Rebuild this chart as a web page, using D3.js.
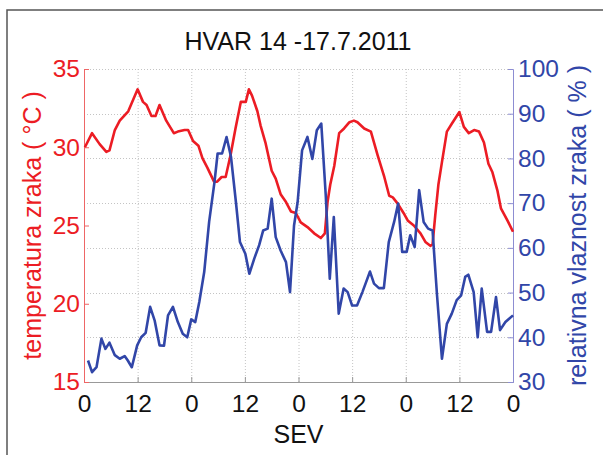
<!DOCTYPE html>
<html>
<head>
<meta charset="utf-8">
<script src="https://cdn.jsdelivr.net/npm/d3@7"></script>
<style>
  body { margin: 0; background: #fff; }
  svg { display: block; font-family: "Liberation Sans", Arial, sans-serif; }
</style>
</head>
<body>
<svg id="chart" width="603" height="455"></svg>
<script>
const title = 'HVAR 14 -17.7.2011';
const xLabel = 'SEV';
const tempLabel = 'temperatura zraka ( °C )';
const humLabel = 'relativna vlaznost zraka ( % )';

const xTicks = [0, 12, 24, 36, 48, 60, 72, 84, 96];
const xTickLabels = ['0', '12', '0', '12', '0', '12', '0', '12', '0'];
const tempTicks = [15, 20, 25, 30, 35];
const humTicks = [30, 40, 50, 60, 70, 80, 90, 100];

// hours since 14.7. 00:00
const tempHours = [0.2, 1.8, 3.5, 5, 5.7, 6.9, 8, 9.9, 12, 13.2, 14, 15.1, 16, 16.9, 18.4, 20.1, 21, 22.5, 23.3,
  24.4, 25.6, 26.5, 27.6, 29.1, 29.8, 30.8, 31.7, 32.8, 33.9, 35.1, 36.2, 36.9, 37.6, 38.8, 39.5, 40.6, 42, 42.9,
  44, 45.2, 46.3, 47.4, 48.5, 50, 51.5, 53, 53.9, 54.5, 55.1, 56, 57.1, 58.2, 59.4, 60.4, 61.2, 62.7, 64.2, 65.7,
  67.2, 68.3, 69.1, 70.2, 71.5, 72.5, 73.8, 75.3, 76.4, 77.5, 78, 78.6, 79.3, 80.1, 81.2, 82.3, 84, 85, 86.1,
  87.3, 88.4, 89.5, 90.5, 91.4, 92.5, 93.3, 94.8, 96];
const tempValues = [30.0, 30.9, 30.2, 29.7, 29.8, 31.1, 31.7, 32.3, 33.7, 32.9, 32.7, 32.0, 32.0, 32.7, 31.7, 30.9, 31.0, 31.1, 31.1,
  30.4, 30.1, 29.3, 28.7, 27.8, 27.8, 28.1, 28.1, 29.5, 31.2, 32.9, 32.9, 33.7, 33.3, 32.3, 31.4, 30.3, 28.5, 28.0,
  27.0, 26.5, 25.9, 25.8, 25.2, 24.9, 24.5, 24.2, 24.5, 26.5, 27.6, 28.8, 30.9, 31.2, 31.6, 31.7, 31.6, 31.2, 31.0, 29.5,
  28.1, 26.9, 26.8, 26.4, 25.8, 25.3, 25.0, 24.5, 23.95, 23.7, 23.8, 25.65, 27.6, 29.05, 31.0, 31.5, 32.25, 31.3, 30.9,
  31.1, 31.0, 30.3, 28.95, 28.4, 27.25, 26.1, 25.3, 24.6];

const humHours = [0.9, 1.8, 2.8, 3.9, 4.8, 5.7, 6.9, 8, 9.1, 9.8, 10.7, 11.9, 12.8, 13.8, 14.8, 15.8, 16.9, 17.9,
  18.8, 19.9, 21, 22.1, 23.1, 24, 24.9, 25.8, 26.9, 28, 29.2, 29.9, 30.9, 31.9, 32.9, 34, 34.9, 36.1, 37, 38.1,
  39.2, 40.1, 41.1, 42, 42.9, 44, 45.2, 46.1, 47, 47.8, 48.8, 50, 51.1, 52.1, 53.1, 54.1, 55, 55.9, 57, 58.1, 59,
  60, 61.1, 62.3, 63, 64, 64.9, 66, 67.1, 68.2, 69.4, 70.3, 71.2, 72.2, 73, 74, 75, 76, 77, 78, 79, 80.1, 81.2,
  82.3, 83.4, 84.4, 85.3, 86, 87.2, 88.1, 89, 90.2, 91.1, 92.2, 93.1, 94.3, 96];
const humValues = [34.8, 32.2, 33.3, 39.7, 37.4, 38.8, 36.0, 35.2, 35.8, 34.8, 33.3, 38.2, 40.0, 41.0, 46.8, 43.8, 38.2, 38.1,
  44.9, 46.8, 43.4, 40.8, 40.0, 44.0, 43.4, 47.9, 54.6, 65.8, 74.7, 81.1, 81.1, 84.8, 80.3, 70.2, 61.3, 58.7, 54.2, 57.6,
  60.6, 63.9, 64.3, 71.0, 62.4, 59.4, 56.8, 50.1, 65.0, 70.2, 81.8, 84.8, 79.9, 86.3, 87.8, 71.7, 53.1, 66.9, 45.3, 50.9, 50.1,
  47.1, 47.1, 50.1, 52.0, 54.7, 52.0, 51.0, 51.0, 61.3, 65.8, 69.9, 59.1, 59.1, 62.8, 60.2, 72.9, 65.8, 64.3, 63.9, 49.4, 35.2, 43.0,
  45.3, 48.3, 49.4, 53.5, 54.0, 50.1, 40.0, 50.9, 41.2, 41.2, 49.0, 41.6, 43.4, 44.9];

const red = '#ec1c24';
const blue = '#3146a8';

const plot = { left: 84, right: 513, top: 69, bottom: 382 };

const svg = d3.select('#chart');

// figure frame
svg.append('path')
  .attr('d', 'M7,455 V10 H603')
  .attr('fill', 'none')
  .attr('stroke', '#555')
  .attr('stroke-width', 1.5);

const x = d3.scaleLinear().domain([0, 96]).range([plot.left, plot.right]);
const yT = d3.scaleLinear().domain([15, 35]).range([plot.bottom, plot.top]);
const yH = d3.scaleLinear().domain([30, 100]).range([plot.bottom, plot.top]);

// grid
const grid = svg.append('g')
  .attr('stroke', '#c4c4c4')
  .attr('stroke-width', 1)
  .attr('stroke-dasharray', '1,2');

grid.selectAll('.vg')
  .data(xTicks.slice(1, -1))
  .join('line')
  .attr('x1', d => x(d) + 0.5).attr('x2', d => x(d) + 0.5)
  .attr('y1', plot.top).attr('y2', plot.bottom);

grid.selectAll('.hg')
  .data(humTicks.slice(1))
  .join('line')
  .attr('x1', plot.left).attr('x2', plot.right)
  .attr('y1', d => Math.round(yH(d)) + 0.5).attr('y2', d => Math.round(yH(d)) + 0.5);

// x axis
const xAxis = svg.append('g')
  .attr('transform', `translate(0,${plot.bottom})`)
  .call(d3.axisBottom(x)
    .tickValues(xTicks)
    .tickFormat((d, i) => xTickLabels[i])
    .tickSize(-5)
    .tickPadding(13));
xAxis.select('.domain').attr('stroke', '#999');
xAxis.selectAll('line').attr('stroke', '#999');
xAxis.selectAll('text').attr('fill', '#111').attr('font-size', 24.5);

// left axis (temperature)
const leftAxis = svg.append('g')
  .attr('transform', `translate(${plot.left},0)`)
  .call(d3.axisLeft(yT)
    .tickValues(tempTicks)
    .tickSize(-5)
    .tickPadding(4));
leftAxis.select('.domain').attr('stroke', '#e66');
leftAxis.selectAll('line').attr('stroke', '#e66');
leftAxis.selectAll('text').attr('fill', red).attr('font-size', 24.5);

// right axis (humidity)
const rightAxis = svg.append('g')
  .attr('transform', `translate(${plot.right},0)`)
  .call(d3.axisRight(yH)
    .tickValues(humTicks)
    .tickSize(-5)
    .tickPadding(5));
rightAxis.select('.domain').attr('stroke', '#8d8dd2');
rightAxis.selectAll('line').attr('stroke', '#8d8dd2');
rightAxis.selectAll('text').attr('fill', blue).attr('font-size', 24.5);

// series
const tempLine = d3.line()
  .x((d, i) => x(tempHours[i]))
  .y(d => yT(d));
const humLine = d3.line()
  .x((d, i) => x(humHours[i]))
  .y(d => yH(d));

svg.append('path')
  .datum(tempValues)
  .attr('d', tempLine)
  .attr('fill', 'none')
  .attr('stroke', red)
  .attr('stroke-width', 2.6)
  .attr('stroke-linejoin', 'round');

svg.append('path')
  .datum(humValues)
  .attr('d', humLine)
  .attr('fill', 'none')
  .attr('stroke', blue)
  .attr('stroke-width', 2.6)
  .attr('stroke-linejoin', 'round');

// texts
svg.append('text')
  .attr('x', 298)
  .attr('y', 50)
  .attr('text-anchor', 'middle')
  .attr('font-size', 25)
  .attr('fill', '#111')
  .text(title);

svg.append('text')
  .attr('x', (plot.left + plot.right) / 2)
  .attr('y', 443)
  .attr('text-anchor', 'middle')
  .attr('font-size', 25)
  .attr('fill', '#111')
  .text(xLabel);

svg.append('text')
  .attr('transform', `translate(41,${(plot.top + plot.bottom) / 2}) rotate(-90)`)
  .attr('text-anchor', 'middle')
  .attr('font-size', 25)
  .attr('fill', red)
  .text(tempLabel);

svg.append('text')
  .attr('transform', `translate(586,${(plot.top + plot.bottom) / 2}) rotate(-90)`)
  .attr('text-anchor', 'middle')
  .attr('font-size', 25)
  .attr('fill', blue)
  .text(humLabel);
</script>
</body>
</html>
